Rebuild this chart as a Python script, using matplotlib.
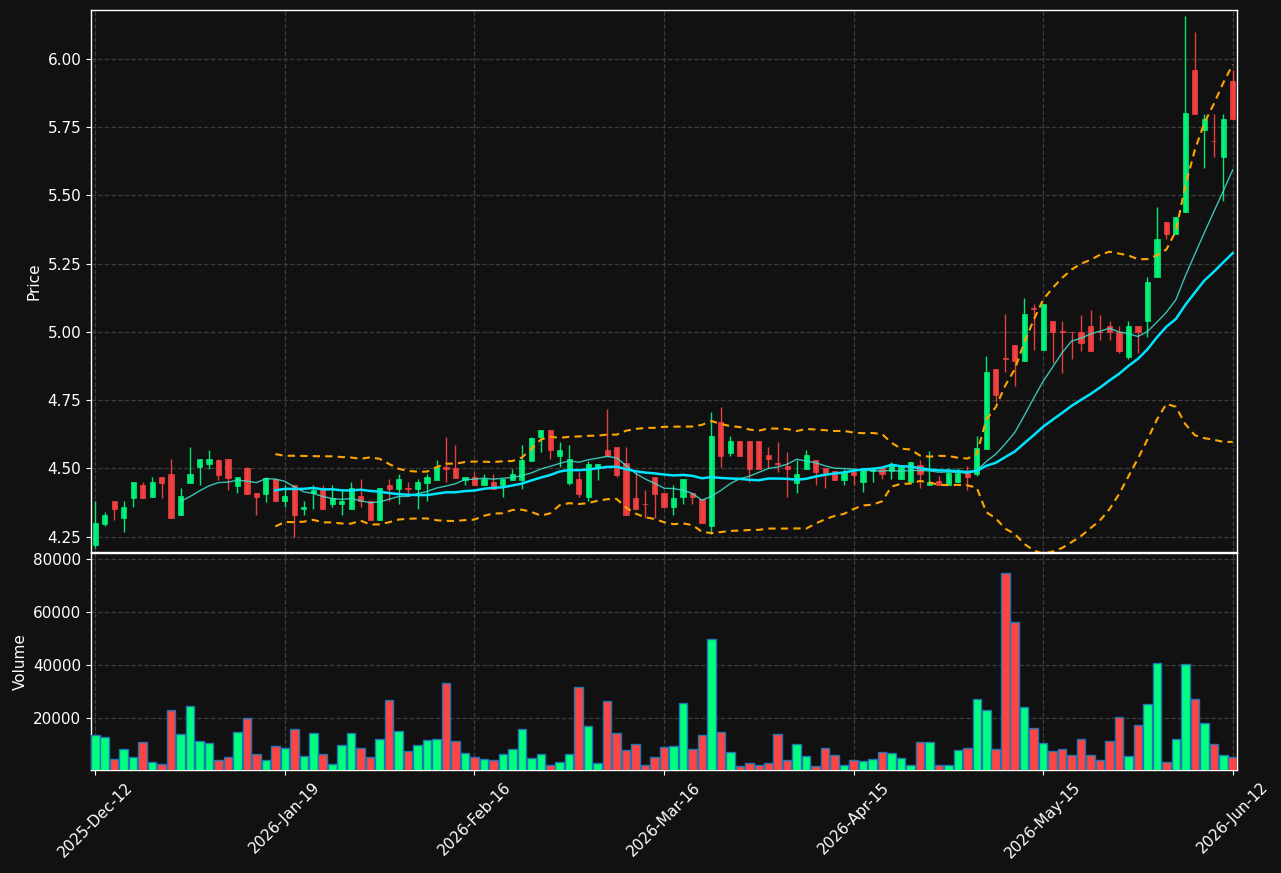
import numpy as np
import pandas as pd
import matplotlib
matplotlib.use("Agg")
import matplotlib.pyplot as plt

# ---------------- data ----------------
opens = [4.218, 4.297, 4.381, 4.317, 4.390, 4.439, 4.397, 4.467, 4.479, 4.328,
         4.448, 4.506, 4.517, 4.530, 4.536, 4.437, 4.500, 4.410, 4.408, 4.461,
         4.379, 4.438, 4.350, 4.409, 4.425, 4.368, 4.368, 4.350, 4.399, 4.379,
         4.310, 4.438, 4.426, 4.428, 4.426, 4.447, 4.459, 4.507, 4.500, 4.459,
         4.467, 4.438, 4.450, 4.438, 4.459, 4.459, 4.528, 4.615, 4.640, 4.545,
         4.448, 4.461, 4.397, 4.500, 4.569, 4.577, 4.519, 4.392, 4.370, 4.467,
         4.409, 4.357, 4.397, 4.409, 4.388, 4.288, 4.669, 4.557, 4.600, 4.600,
         4.600, 4.549, 4.519, 4.509, 4.448, 4.499, 4.530, 4.500, 4.492, 4.459,
         4.488, 4.451, 4.490, 4.506, 4.490, 4.461, 4.449, 4.512, 4.439, 4.453,
         4.439, 4.449, 4.483, 4.479, 4.571, 4.865, 4.906, 4.953, 4.892, 5.086,
         4.933, 5.040, 5.002, 5.001, 5.000, 5.020, 5.001, 5.020, 5.000, 4.908,
         5.020, 5.039, 5.201, 5.401, 5.357, 5.439, 5.961, 5.739, 5.701, 5.640,
         5.920]
highs = [4.379, 4.340, 4.381, 4.381, 4.450, 4.450, 4.467, 4.467, 4.536, 4.427,
         4.577, 4.536, 4.569, 4.536, 4.536, 4.467, 4.506, 4.410, 4.467, 4.461,
         4.438, 4.438, 4.381, 4.438, 4.438, 4.438, 4.421, 4.450, 4.461, 4.379,
         4.427, 4.461, 4.479, 4.450, 4.461, 4.479, 4.530, 4.617, 4.587, 4.467,
         4.488, 4.479, 4.479, 4.461, 4.499, 4.587, 4.617, 4.640, 4.640, 4.598,
         4.587, 4.488, 4.528, 4.518, 4.718, 4.577, 4.577, 4.488, 4.420, 4.467,
         4.409, 4.438, 4.461, 4.409, 4.388, 4.708, 4.726, 4.618, 4.600, 4.600,
         4.600, 4.577, 4.598, 4.560, 4.530, 4.569, 4.530, 4.500, 4.492, 4.499,
         4.488, 4.494, 4.501, 4.506, 4.523, 4.505, 4.523, 4.532, 4.563, 4.471,
         4.501, 4.501, 4.510, 4.620, 4.912, 4.865, 5.064, 4.953, 5.125, 5.104,
         5.104, 5.040, 5.040, 5.001, 5.061, 5.081, 5.061, 5.040, 5.020, 5.040,
         5.020, 5.203, 5.458, 5.401, 5.421, 6.158, 6.098, 5.799, 5.799, 5.799,
         5.961]
lows = [4.209, 4.288, 4.310, 4.269, 4.357, 4.390, 4.397, 4.391, 4.317, 4.328,
        4.448, 4.438, 4.499, 4.459, 4.420, 4.409, 4.408, 4.328, 4.376, 4.379,
        4.357, 4.249, 4.328, 4.350, 4.350, 4.357, 4.328, 4.350, 4.357, 4.310,
        4.310, 4.379, 4.369, 4.399, 4.350, 4.379, 4.459, 4.450, 4.466, 4.438,
        4.438, 4.438, 4.426, 4.397, 4.459, 4.426, 4.528, 4.560, 4.536, 4.507,
        4.438, 4.397, 4.379, 4.459, 4.545, 4.467, 4.328, 4.350, 4.320, 4.320,
        4.357, 4.328, 4.368, 4.368, 4.299, 4.260, 4.507, 4.546, 4.546, 4.449,
        4.499, 4.500, 4.488, 4.397, 4.409, 4.499, 4.438, 4.427, 4.459, 4.438,
        4.438, 4.412, 4.451, 4.461, 4.461, 4.461, 4.449, 4.430, 4.439, 4.439,
        4.439, 4.449, 4.422, 4.471, 4.571, 4.743, 4.853, 4.802, 4.892, 4.933,
        4.933, 4.888, 4.851, 4.902, 4.930, 4.930, 4.972, 4.972, 4.921, 4.902,
        4.921, 4.982, 5.201, 5.341, 5.357, 5.439, 5.798, 5.602, 5.640, 5.481,
        5.780]
closes = [4.301, 4.330, 4.350, 4.359, 4.450, 4.390, 4.450, 4.448, 4.317, 4.399,
          4.479, 4.536, 4.536, 4.477, 4.466, 4.467, 4.408, 4.397, 4.464, 4.379,
          4.399, 4.328, 4.359, 4.421, 4.350, 4.390, 4.381, 4.427, 4.381, 4.310,
          4.427, 4.426, 4.461, 4.426, 4.450, 4.467, 4.507, 4.499, 4.466, 4.467,
          4.438, 4.461, 4.426, 4.461, 4.479, 4.530, 4.610, 4.640, 4.568, 4.569,
          4.536, 4.408, 4.518, 4.518, 4.545, 4.477, 4.328, 4.350, 4.368, 4.408,
          4.357, 4.392, 4.461, 4.397, 4.299, 4.618, 4.546, 4.600, 4.546, 4.499,
          4.499, 4.534, 4.517, 4.499, 4.479, 4.549, 4.488, 4.485, 4.459, 4.488,
          4.477, 4.494, 4.501, 4.479, 4.517, 4.505, 4.523, 4.479, 4.449, 4.439,
          4.483, 4.483, 4.468, 4.574, 4.854, 4.770, 4.902, 4.892, 5.064, 5.083,
          5.104, 5.000, 4.998, 4.998, 4.959, 4.930, 4.998, 5.000, 4.930, 5.020,
          5.000, 5.182, 5.342, 5.357, 5.421, 5.800, 5.798, 5.780, 5.698, 5.780,
          5.780]
volumes = [13585, 12830, 4755, 8528, 5283, 10943, 3623, 2868, 23019, 13962,
           24528, 11547, 10566, 4377, 5283, 14717, 20000, 6415, 4151, 9434,
           8679, 15849, 5660, 14340, 6415, 2642, 9811, 14340, 8679, 5283,
           12075, 26792, 15094, 7547, 9811, 11698, 12075, 33208, 11321, 6792,
           5283, 4528, 4151, 6415, 8302, 15849, 4906, 6415, 2264, 3396,
           6415, 31698, 16981, 3019, 26415, 14340, 7925, 10189, 2264, 5283,
           9057, 9434, 25660, 8302, 13585, 49811, 14717, 7170, 1887, 3019,
           2264, 3019, 13962, 4151, 10189, 5660, 1887, 8679, 6038, 2264,
           4151, 3774, 4528, 7170, 6792, 4906, 2264, 10943, 10943, 2264,
           2264, 7925, 8679, 27170, 23019, 8302, 74717, 56226, 24151, 16226,
           10566, 7547, 8302, 6038, 12075, 6038, 4151, 11321, 20377, 5660,
           17358, 25283, 40755, 3396, 12075, 40377, 27170, 18113, 10189, 6038,
           5283]
tick_positions = [0, 20, 40, 60, 80, 100, 120]
tick_labels = ["2025-Dec-12", "2026-Jan-19", "2026-Feb-16", "2026-Mar-16",
               "2026-Apr-15", "2026-May-15", "2026-Jun-12"]

# ---------------- styling ----------------
BG = "#111111"
UP = "#00ff7f"
DOWN = "#ff4444"
GRID = "#3c3c3c"

o = np.array(opens); h = np.array(highs); l = np.array(lows); c = np.array(closes)
v = np.array(volumes, dtype=float)
x = np.arange(len(c))
up = c >= o

cs = pd.Series(c)
ma10 = cs.rolling(10).mean()
ma20 = cs.rolling(20).mean()
sd20 = cs.rolling(20).std(ddof=0)
upper = ma20 + 2 * sd20
lower = ma20 - 2 * sd20

fig = plt.figure(figsize=(12.81, 8.73), dpi=100, facecolor=BG)
W, H = 1281, 873
axp = fig.add_axes([91 / W, 1 - 552 / H, (1237 - 91) / W, (552 - 10) / H])
axv = fig.add_axes([91 / W, 1 - 770 / H, (1237 - 91) / W, (770 - 553) / H], sharex=axp)

for ax in (axp, axv):
    ax.set_facecolor(BG)
    for s in ax.spines.values():
        s.set_color("white")
        s.set_linewidth(1.0)
    ax.tick_params(colors="white", labelsize=11)
    ax.grid(True, color=GRID, linestyle="--", linewidth=0.9)
    ax.set_axisbelow(True)

# candles
cols = [UP if u else DOWN for u in up]
axp.vlines(x, l, h, colors=cols, linewidth=1.0, alpha=0.9, zorder=2)
body_bottom = np.minimum(o, c)
body_h = np.maximum(np.abs(c - o), 0.002)
axp.bar(x, body_h, bottom=body_bottom, width=0.55, color=cols, edgecolor=cols,
        linewidth=0.5, alpha=0.9, zorder=3)

# lines
axp.plot(x, ma10, color="#40e0d0", linewidth=1.0, alpha=0.85, zorder=4)
axp.plot(x, ma20, color="#00e5ff", linewidth=1.8, zorder=4)
axp.plot(x, upper, color="orange", linewidth=1.5, linestyle=(0, (3.5, 2.5)), zorder=4)
axp.plot(x, lower, color="orange", linewidth=1.5, linestyle=(0, (3.5, 2.5)), zorder=4)

lo = l.min()
hi = h.max()
r = hi - lo
axp.set_ylim(lo - 0.0077 * r, hi + 0.0108 * r)
axp.set_yticks(np.arange(4.25, 6.01, 0.25))
axp.set_yticklabels([f"{t:.2f}" for t in np.arange(4.25, 6.01, 0.25)])
axp.set_ylabel("Price", color="white", fontsize=11)
axp.tick_params(axis="x", labelbottom=False, length=0)

# volume
axv.bar(x, v, width=0.9, color=cols, edgecolor="#1f77b4", linewidth=1.0, zorder=3)
axv.set_ylim(0.3 * v.min(), 1.1 * v.max())
axv.set_yticks([20000, 40000, 60000, 80000])
axv.set_ylabel("Volume", color="white", fontsize=11)

axv.set_xlim(-0.45, len(c) - 1 + 0.45)
axv.set_xticks(tick_positions)
axv.set_xticklabels(tick_labels, rotation=45, ha="center", fontsize=11, color="white")

fig.savefig("out.png", dpi=100, facecolor=BG)
